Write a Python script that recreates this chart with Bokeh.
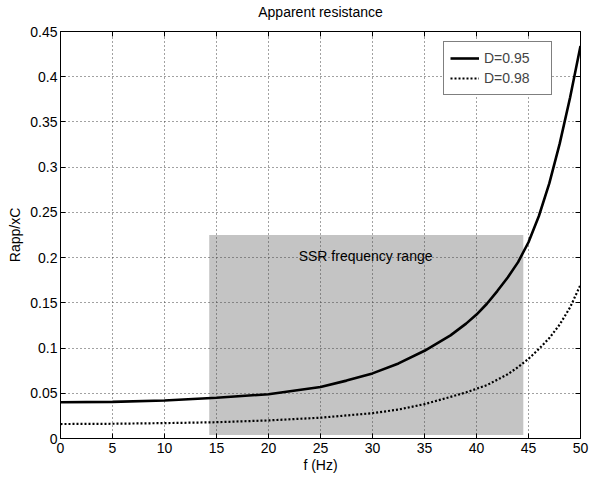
from bokeh.plotting import figure
from bokeh.models import (Range1d, FixedTicker, LinearAxis, Legend, LegendItem, Label,
                          CustomJSTickFormatter)
from bokeh.embed import file_html
from bokeh.resources import INLINE

# ---- data ----
freq = [0, 5, 10, 15, 20, 25, 27.5, 30, 32.5, 35, 37.5, 39, 40, 41, 42, 43, 44, 45, 46, 47, 48, 49, 50]
r_d095 = [0.040, 0.0405, 0.042, 0.045, 0.049, 0.057, 0.064, 0.072, 0.083, 0.097, 0.114, 0.127,
          0.137, 0.149, 0.163, 0.178, 0.195, 0.217, 0.246, 0.282, 0.326, 0.377, 0.434]
r_d098 = [0.016, 0.0163, 0.017, 0.018, 0.020, 0.023, 0.0255, 0.028, 0.032, 0.038, 0.046, 0.051,
          0.055, 0.059, 0.065, 0.071, 0.079, 0.088, 0.099, 0.111, 0.126, 0.145, 0.170]
series_labels = ["D=0.95", "D=0.98"]
ssr_range = [14.3, 44.5]
ssr_height = [0.004, 0.225]
ssr_text = "SSR frequency range"
x_ticks = [0, 5, 10, 15, 20, 25, 30, 35, 40, 45, 50]
y_ticks = [0, 0.05, 0.1, 0.15, 0.2, 0.25, 0.3, 0.35, 0.4, 0.45]
y_tick_labels = ["0", "0.05", "0.1", "0.15", "0.2", "0.25", "0.3", "0.35", "0.4", "0.45"]
title_text = "Apparent resistance"
x_label = "f (Hz)"
y_label = "Rapp/xC"

FONT = "Liberation Sans"

p = figure(width=602, height=477, output_backend="svg", toolbar_location=None,
           x_range=Range1d(0, 50), y_range=Range1d(0, 0.45),
           min_border_left=60, min_border_right=22, min_border_top=30, min_border_bottom=39)

p.background_fill_color = "white"
p.border_fill_color = "white"
p.outline_line_color = "black"
p.outline_line_width = 1

# shaded SSR range
p.quad(left=[ssr_range[0]], right=[ssr_range[1]], bottom=[ssr_height[0]], top=[ssr_height[1]],
       fill_color="#c4c4c4", line_color=None, level="image")

r1 = p.line(freq, r_d095, line_color="black", line_width=2.6)
r2 = p.line(freq, r_d098, line_color="black", line_width=2.2, line_dash="2 2")

p.add_layout(Label(x=22.9, y=0.202, text=ssr_text, text_font=FONT, text_font_size="14px",
                   text_baseline="middle", text_align="left", text_color="black"))

label_overrides = {t: l for t, l in zip(y_ticks, y_tick_labels)}

for ax in p.xaxis:
    ax.ticker = FixedTicker(ticks=x_ticks)
for ax in p.yaxis:
    ax.ticker = FixedTicker(ticks=y_ticks)
    ax.major_label_overrides = label_overrides

for ax in list(p.xaxis) + list(p.yaxis):
    ax.major_tick_in = 5
    ax.major_tick_out = 0
    ax.minor_tick_in = 0
    ax.minor_tick_out = 0
    ax.axis_line_color = "black"
    ax.major_tick_line_color = "black"
    ax.major_label_text_font = FONT
    ax.major_label_text_font_size = "14px"
    ax.major_label_text_color = "black"
    ax.axis_label_text_font = FONT
    ax.axis_label_text_font_size = "14px"
    ax.axis_label_text_font_style = "normal"
    ax.axis_label_text_color = "black"

p.xaxis.axis_label = x_label
p.yaxis.axis_label = y_label
p.xaxis.major_label_standoff = 4
p.yaxis.major_label_standoff = 3
p.xaxis.axis_label_standoff = 1
p.yaxis.axis_label_standoff = 4

# box ticks on top (carrying the title) and right (no labels)
blank = CustomJSTickFormatter(code="return ''")
top_ax = LinearAxis(ticker=FixedTicker(ticks=x_ticks), formatter=blank, major_tick_in=5,
                    major_tick_out=0, minor_tick_in=0, minor_tick_out=0,
                    major_label_standoff=0, axis_line_color="black",
                    axis_label=title_text, axis_label_standoff=12,
                    axis_label_text_font=FONT, axis_label_text_font_size="14px",
                    axis_label_text_font_style="normal", axis_label_text_color="black")
right_ax = LinearAxis(ticker=FixedTicker(ticks=y_ticks), formatter=blank, major_tick_in=5,
                      major_tick_out=0, minor_tick_in=0, minor_tick_out=0,
                      major_label_standoff=0, axis_line_color="black")
p.add_layout(top_ax, "above")
p.add_layout(right_ax, "right")

p.xgrid.ticker = FixedTicker(ticks=x_ticks)
p.ygrid.ticker = FixedTicker(ticks=y_ticks)
for g in (p.xgrid, p.ygrid):
    g.grid_line_color = "#444444"
    g.grid_line_dash = "1 3"
    g.grid_line_width = 1

legend = Legend(items=[LegendItem(label=series_labels[0], renderers=[r1]),
                       LegendItem(label=series_labels[1], renderers=[r2])],
                location=(383, 343))
legend.border_line_color = "black"
legend.border_line_width = 1
legend.background_fill_color = "white"
legend.background_fill_alpha = 1
legend.label_text_font = FONT
legend.label_text_font_size = "14px"
legend.glyph_width = 29
legend.glyph_height = 20
legend.label_standoff = 5
legend.label_width = 61
legend.label_height = 20
legend.padding = 6
legend.spacing = 0
legend.margin = 0
p.add_layout(legend, "center")

open("out.html", "w").write(file_html(p, INLINE))
